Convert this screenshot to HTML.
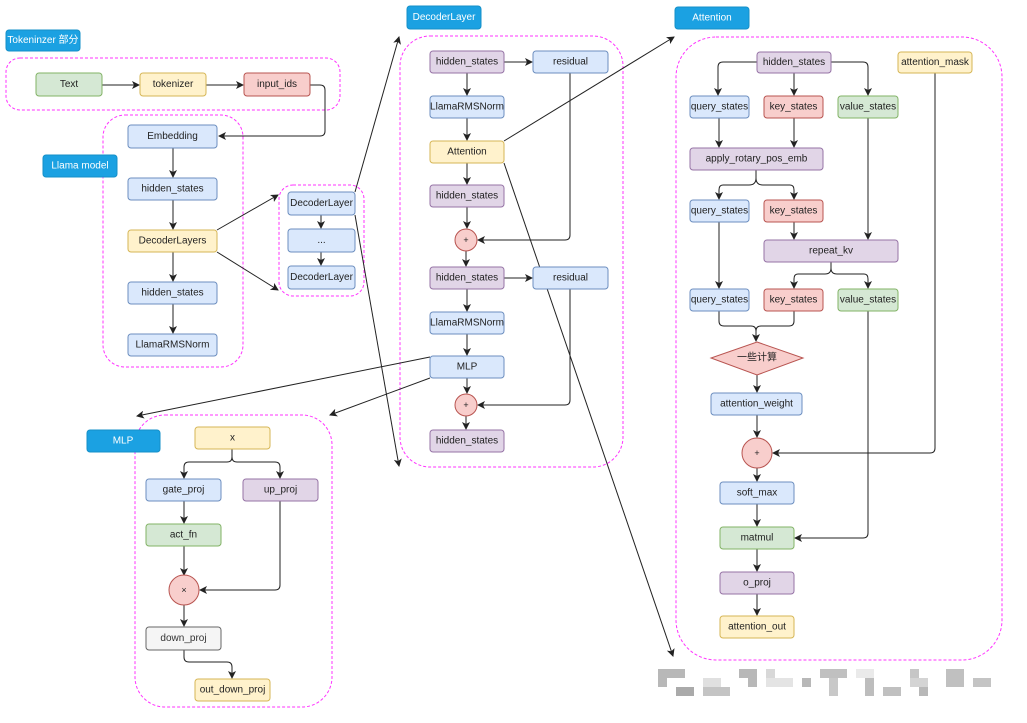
<!DOCTYPE html>
<html><head><meta charset="utf-8"><style>
html,body{margin:0;padding:0;background:#fff;}
svg{display:block;font-family:"Liberation Sans","Noto Sans CJK SC",sans-serif;}
text{font-size:10px;fill:#222;text-anchor:middle;dominant-baseline:central;}
.lbl{fill:#fff;}
.c{fill:none;stroke:#ff33ff;stroke-width:1;stroke-dasharray:3,2;}
.l{fill:none;stroke:#222;stroke-width:1;}
.b{fill:#dae8fc;stroke:#6c8ebf;}
.y{fill:#fff2cc;stroke:#d6b656;}
.r{fill:#f8cecc;stroke:#b85450;}
.g{fill:#d5e8d4;stroke:#82b366;}
.p{fill:#e1d5e7;stroke:#9673a6;}
.gr{fill:#f5f5f5;stroke:#666;}
.t{fill:#1ba1e2;stroke:#1590c8;}
</style></head><body>
<svg width="1027" height="723" viewBox="0 0 1027 723">
<defs><marker id="a" markerWidth="8" markerHeight="8" refX="7" refY="4" orient="auto" markerUnits="userSpaceOnUse"><path d="M0,0 L8,4 L0,8 L2,4 z" fill="#222"/></marker></defs>

<!-- containers -->
<rect class="c" x="6" y="58" width="334" height="52" rx="14"/>
<rect class="c" x="103" y="115" width="140" height="252" rx="22"/>
<rect class="c" x="279" y="185" width="85" height="111" rx="14"/>
<rect class="c" x="400" y="36" width="223" height="431" rx="30"/>
<rect class="c" x="676" y="37" width="326" height="623" rx="40"/>
<rect class="c" x="135" y="415" width="197" height="292" rx="30"/>

<!-- labels -->
<rect class="t" x="6" y="30" width="74" height="21" rx="3"/><text class="lbl" x="43" y="40.5">Tokeninzer 部分</text>
<rect class="t" x="43" y="155" width="74" height="22" rx="3"/><text class="lbl" x="80" y="166">Llama model</text>
<rect class="t" x="407" y="6" width="74" height="23" rx="3"/><text class="lbl" x="444" y="17.5">DecoderLayer</text>
<rect class="t" x="675" y="7" width="74" height="22" rx="3"/><text class="lbl" x="712" y="18">Attention</text>
<rect class="t" x="87" y="430" width="73" height="22" rx="3"/><text class="lbl" x="123" y="441">MLP</text>

<!-- connectors -->
<g class="l">
<path d="M102,85 H139" marker-end="url(#a)"/>
<path d="M206,85 H243" marker-end="url(#a)"/>
<path d="M310,85 H320 Q325,85 325,90 V131 Q325,136 320,136 H219" marker-end="url(#a)"/>
<path d="M173,148 V177" marker-end="url(#a)"/>
<path d="M173,200 V229" marker-end="url(#a)"/>
<path d="M173,252 V281" marker-end="url(#a)"/>
<path d="M173,304 V333" marker-end="url(#a)"/>
<path d="M217,230 L278,195" marker-end="url(#a)"/>
<path d="M217,252 L278,290" marker-end="url(#a)"/>
<path d="M321,215 V228" marker-end="url(#a)"/>
<path d="M321,252 V265" marker-end="url(#a)"/>
<path d="M355,192 L399,37" marker-end="url(#a)"/>
<path d="M355,215 L399,466" marker-end="url(#a)"/>
<!-- decoder -->
<path d="M504,62 H532" marker-end="url(#a)"/>
<path d="M467,73 V95" marker-end="url(#a)"/>
<path d="M467,118 V140" marker-end="url(#a)"/>
<path d="M467,163 V184" marker-end="url(#a)"/>
<path d="M467,207 V228" marker-end="url(#a)"/>
<path d="M570,73 V235 Q570,240 565,240 H478" marker-end="url(#a)"/>
<path d="M466,251 V266" marker-end="url(#a)"/>
<path d="M504,278 H532" marker-end="url(#a)"/>
<path d="M467,289 V311" marker-end="url(#a)"/>
<path d="M467,334 V355" marker-end="url(#a)"/>
<path d="M467,378 V393" marker-end="url(#a)"/>
<path d="M570,289 V400 Q570,405 565,405 H478" marker-end="url(#a)"/>
<path d="M466,416 V429" marker-end="url(#a)"/>
<path d="M504,141 L674,37" marker-end="url(#a)"/>
<path d="M504,163 L673,656" marker-end="url(#a)"/>
<path d="M430,357 L137,416" marker-end="url(#a)"/>
<path d="M430,378 L330,415" marker-end="url(#a)"/>
<!-- attention -->
<path d="M757,62 H723 Q718,62 718,67 V95" marker-end="url(#a)"/>
<path d="M794,73 V95" marker-end="url(#a)"/>
<path d="M831,62 H863 Q868,62 868,67 V95" marker-end="url(#a)"/>
<path d="M719,118 V147" marker-end="url(#a)"/>
<path d="M794,118 V147" marker-end="url(#a)"/>
<path d="M756,170 V178 Q756,185 749,185 H723 Q719,185 719,190 V199" marker-end="url(#a)"/>
<path d="M756,178 Q756,185 763,185 H790 Q794,185 794,190 V199"  marker-end="url(#a)"/>
<path d="M719,222 V288" marker-end="url(#a)"/>
<path d="M794,222 V239" marker-end="url(#a)"/>
<path d="M868,118 V239" marker-end="url(#a)"/>
<path d="M831,262 V268 Q831,274 825,274 H798 Q794,274 794,279 V288" marker-end="url(#a)"/>
<path d="M831,268 Q831,274 837,274 H864 Q868,274 868,279 V288" marker-end="url(#a)"/>
<path d="M719,311 V321 Q719,326 724,326 H751 Q756,326 756,331 V341" marker-end="url(#a)"/>
<path d="M794,311 V321 Q794,326 789,326 H761 Q756,326 756,331"/>
<path d="M757,375 V392" marker-end="url(#a)"/>
<path d="M757,415 V437" marker-end="url(#a)"/>
<path d="M935,73 V448 Q935,453 930,453 H773" marker-end="url(#a)"/>
<path d="M757,468 V481" marker-end="url(#a)"/>
<path d="M757,504 V526" marker-end="url(#a)"/>
<path d="M868,311 V533 Q868,538 863,538 H795" marker-end="url(#a)"/>
<path d="M757,549 V571" marker-end="url(#a)"/>
<path d="M757,594 V615" marker-end="url(#a)"/>
<!-- mlp -->
<path d="M232,449 V457 Q232,462 227,462 H189 Q184,462 184,467 V478" marker-end="url(#a)"/>
<path d="M232,457 Q232,462 237,462 H275 Q280,462 280,467 V478" marker-end="url(#a)"/>
<path d="M184,501 V523" marker-end="url(#a)"/>
<path d="M184,546 V575" marker-end="url(#a)"/>
<path d="M280,501 V585 Q280,590 275,590 H200" marker-end="url(#a)"/>
<path d="M184,605 V626" marker-end="url(#a)"/>
<path d="M184,650 V657 Q184,662 189,662 H227 Q232,662 232,667 V678" marker-end="url(#a)"/>
</g>

<!-- tokenizer nodes -->
<rect class="g" x="36" y="73" width="66" height="23" rx="3"/><text x="69" y="84.5">Text</text>
<rect class="y" x="140" y="73" width="66" height="23" rx="3"/><text x="173" y="84.5">tokenizer</text>
<rect class="r" x="244" y="73" width="66" height="23" rx="3"/><text x="277" y="84.5">input_ids</text>

<!-- llama -->
<rect class="b" x="128" y="125" width="89" height="23" rx="3"/><text x="172.5" y="136.5">Embedding</text>
<rect class="b" x="128" y="178" width="89" height="22" rx="3"/><text x="172.5" y="189">hidden_states</text>
<rect class="y" x="128" y="230" width="89" height="22" rx="3"/><text x="172.5" y="241">DecoderLayers</text>
<rect class="b" x="128" y="282" width="89" height="22" rx="3"/><text x="172.5" y="293">hidden_states</text>
<rect class="b" x="128" y="334" width="89" height="22" rx="3"/><text x="172.5" y="345">LlamaRMSNorm</text>
<rect class="b" x="288" y="192" width="67" height="23" rx="3"/><text x="321.5" y="203.5">DecoderLayer</text>
<rect class="b" x="288" y="229" width="67" height="23" rx="3"/><text x="321.5" y="240.5">...</text>
<rect class="b" x="288" y="266" width="67" height="23" rx="3"/><text x="321.5" y="277.5">DecoderLayer</text>

<!-- decoder -->
<rect class="p" x="430" y="51" width="74" height="22" rx="3"/><text x="467" y="62">hidden_states</text>
<rect class="b" x="533" y="51" width="75" height="22" rx="3"/><text x="570.5" y="62">residual</text>
<rect class="b" x="430" y="96" width="74" height="22" rx="3"/><text x="467" y="107">LlamaRMSNorm</text>
<rect class="y" x="430" y="141" width="74" height="22" rx="3"/><text x="467" y="152">Attention</text>
<rect class="p" x="430" y="185" width="74" height="22" rx="3"/><text x="467" y="196">hidden_states</text>
<circle class="r" cx="466" cy="240" r="11"/><text x="466" y="240" style="font-size:9px">+</text>
<rect class="p" x="430" y="267" width="74" height="22" rx="3"/><text x="467" y="278">hidden_states</text>
<rect class="b" x="533" y="267" width="75" height="22" rx="3"/><text x="570.5" y="278">residual</text>
<rect class="b" x="430" y="312" width="74" height="22" rx="3"/><text x="467" y="323">LlamaRMSNorm</text>
<rect class="b" x="430" y="356" width="74" height="22" rx="3"/><text x="467" y="367">MLP</text>
<circle class="r" cx="466" cy="405" r="11"/><text x="466" y="405" style="font-size:9px">+</text>
<rect class="p" x="430" y="430" width="74" height="22" rx="3"/><text x="467" y="441">hidden_states</text>

<!-- attention -->
<rect class="p" x="757" y="52" width="74" height="21" rx="3"/><text x="794" y="62.5">hidden_states</text>
<rect class="y" x="898" y="52" width="74" height="21" rx="3"/><text x="935" y="62.5">attention_mask</text>
<rect class="b" x="690" y="96" width="59" height="22" rx="3"/><text x="719.5" y="107">query_states</text>
<rect class="r" x="764" y="96" width="59" height="22" rx="3"/><text x="793.5" y="107">key_states</text>
<rect class="g" x="838" y="96" width="60" height="22" rx="3"/><text x="868" y="107">value_states</text>
<rect class="p" x="690" y="148" width="133" height="22" rx="3"/><text x="756.5" y="159">apply_rotary_pos_emb</text>
<rect class="b" x="690" y="200" width="59" height="22" rx="3"/><text x="719.5" y="211">query_states</text>
<rect class="r" x="764" y="200" width="59" height="22" rx="3"/><text x="793.5" y="211">key_states</text>
<rect class="p" x="764" y="240" width="134" height="22" rx="3"/><text x="831" y="251">repeat_kv</text>
<rect class="b" x="690" y="289" width="59" height="22" rx="3"/><text x="719.5" y="300">query_states</text>
<rect class="r" x="764" y="289" width="59" height="22" rx="3"/><text x="793.5" y="300">key_states</text>
<rect class="g" x="838" y="289" width="60" height="22" rx="3"/><text x="868" y="300">value_states</text>
<path class="r" d="M757,342 L803,358 L757,375 L711,358 Z"/><text x="757" y="358">一些计算</text>
<rect class="b" x="711" y="393" width="91" height="22" rx="3"/><text x="756.5" y="404">attention_weight</text>
<circle class="r" cx="757" cy="453" r="15"/><text x="757" y="453" style="font-size:9px">+</text>
<rect class="b" x="720" y="482" width="74" height="22" rx="3"/><text x="757" y="493">soft_max</text>
<rect class="g" x="720" y="527" width="74" height="22" rx="3"/><text x="757" y="538">matmul</text>
<rect class="p" x="720" y="572" width="74" height="22" rx="3"/><text x="757" y="583">o_proj</text>
<rect class="y" x="720" y="616" width="74" height="22" rx="3"/><text x="757" y="627">attention_out</text>

<!-- mlp -->
<rect class="y" x="195" y="427" width="75" height="22" rx="3"/><text x="232.5" y="438">x</text>
<rect class="b" x="146" y="479" width="75" height="22" rx="3"/><text x="183.5" y="490">gate_proj</text>
<rect class="p" x="243" y="479" width="75" height="22" rx="3"/><text x="280.5" y="490">up_proj</text>
<rect class="g" x="146" y="524" width="75" height="22" rx="3"/><text x="183.5" y="535">act_fn</text>
<circle class="r" cx="184" cy="590" r="15"/><text x="184" y="590" style="font-size:9px">×</text>
<rect class="gr" x="146" y="627" width="75" height="23" rx="3"/><text x="183.5" y="638.5" style="fill:#333">down_proj</text>
<rect class="y" x="195" y="679" width="75" height="22" rx="3"/><text x="232.5" y="690">out_down_proj</text>

<!-- blurred watermark -->
<g fill="#b8b8b8">
<rect x="658" y="669" width="27" height="9"/><rect x="658" y="678" width="9" height="9"/><rect x="676" y="687" width="18" height="9" fill="#aaa"/>
<rect x="703" y="678" width="18" height="9" fill="#e0e0e0"/><rect x="703" y="687" width="27" height="9" fill="#c4c4c4"/>
<rect x="739" y="669" width="18" height="9"/><rect x="748" y="678" width="9" height="9"/>
<rect x="766" y="669" width="9" height="9" fill="#d8d8d8"/><rect x="766" y="678" width="27" height="9" fill="#e4e4e4"/>
<rect x="802" y="678" width="9" height="9"/>
<rect x="820" y="669" width="27" height="9" fill="#c0c0c0"/><rect x="829" y="678" width="9" height="18" fill="#c8c8c8"/>
<rect x="856" y="669" width="18" height="9" fill="#eaeaea"/><rect x="865" y="678" width="9" height="18" fill="#bdbdbd"/>
<rect x="883" y="687" width="18" height="9" fill="#c0c0c0"/>
<rect x="910" y="669" width="9" height="9" fill="#c6c6c6"/><rect x="910" y="678" width="18" height="9" fill="#d4d4d4"/><rect x="919" y="687" width="9" height="9"/>
<rect x="946" y="669" width="18" height="18" fill="#c0c0c0"/><rect x="973" y="678" width="18" height="9" fill="#c4c4c4"/>
</g>
</svg>
</body></html>
